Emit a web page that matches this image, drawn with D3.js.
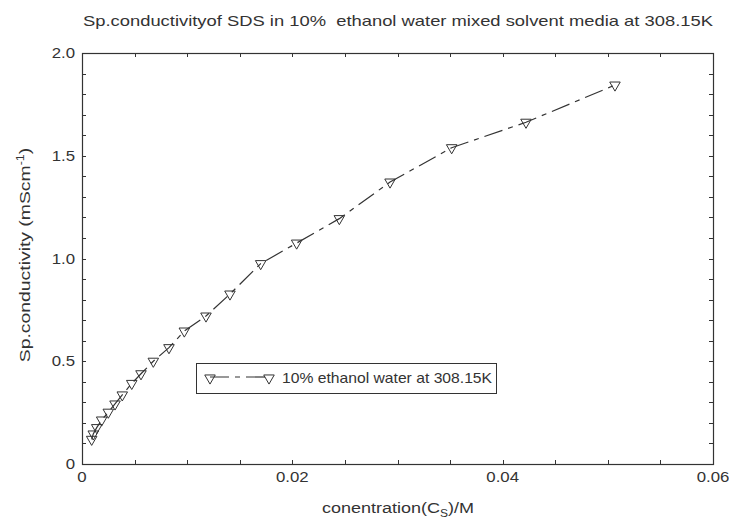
<!DOCTYPE html>
<html>
<head>
<meta charset="utf-8">
<script src="https://cdn.jsdelivr.net/npm/d3@7"></script>
<style>
  body { margin: 0; background: #fff; }
  svg { display: block; font-family: "Liberation Sans", Arial, sans-serif; }
</style>
</head>
<body>
<svg id="chart" width="729" height="521"></svg>
<script>
// ---- data ----
const concentration = [0.00092, 0.00107, 0.00140, 0.00187, 0.00250, 0.00314, 0.00383, 0.00473,
                       0.00561, 0.00678, 0.00827, 0.00973, 0.01179, 0.01407, 0.01699, 0.02041,
                       0.02447, 0.02929, 0.03515, 0.04222, 0.05068];
const conductivity = [0.120, 0.146, 0.177, 0.214, 0.252, 0.292, 0.336, 0.392,
                      0.439, 0.500, 0.566, 0.647, 0.720, 0.827, 0.975, 1.075,
                      1.194, 1.372, 1.539, 1.663, 1.844];
const xTickValues = [0, 0.02, 0.04, 0.06];
const xTickLabels = ["0", "0.02", "0.04", "0.06"];
const yTickValues = [0, 0.5, 1.0, 1.5, 2.0];
const yTickLabels = ["0", "0.5", "1.0", "1.5", "2.0"];
const titleText = "Sp.conductivityof SDS in 10%  ethanol water mixed solvent media at 308.15K";
const seriesName = "10% ethanol water at 308.15K";

const data = concentration.map((c, i) => ({x: c, y: conductivity[i]}));

const svg = d3.select("#chart");
const m = {left: 82, right: 713, top: 53, bottom: 464};
const x = d3.scaleLinear().domain([0, 0.06]).range([m.left, m.right]);
const y = d3.scaleLinear().domain([0, 2.0]).range([m.bottom, m.top]);
const ink = "#333";
const dash = "19,6,5,6";
const sx = 1.2; // horizontal stretch of the lettering

// title
svg.append("text").attr("transform", `translate(83,25.5) scale(1.225,1)`)
  .attr("font-size", 15).attr("fill", ink)
  .attr("xml:space", "preserve").style("white-space", "pre")
  .text(titleText);

// ticks (inward, on all sides)
const xMinor = d3.range(0, 0.0601, 0.005);
const yMinor = d3.range(0, 2.001, 0.1);
const tl = 4;
const g = svg.append("g").attr("stroke", ink).attr("stroke-width", 1);
xMinor.forEach(v => {
  const px = Math.round(x(v)) + 0.5;
  g.append("line").attr("x1", px).attr("x2", px).attr("y1", m.bottom).attr("y2", m.bottom - tl);
  g.append("line").attr("x1", px).attr("x2", px).attr("y1", m.top).attr("y2", m.top + tl);
});
yMinor.forEach(v => {
  const py = Math.round(y(v)) + 0.5;
  g.append("line").attr("x1", m.left).attr("x2", m.left + tl).attr("y1", py).attr("y2", py);
  g.append("line").attr("x1", m.right).attr("x2", m.right - tl).attr("y1", py).attr("y2", py);
});
// frame
svg.append("rect").attr("x", m.left + 0.5).attr("y", m.top + 0.5)
  .attr("width", m.right - m.left).attr("height", m.bottom - m.top)
  .attr("fill", "none").attr("stroke", ink).attr("stroke-width", 1.2);

// tick labels
xTickValues.forEach((v, i) => {
  svg.append("text").attr("transform", `translate(${x(v)},482) scale(${sx},1)`)
    .attr("text-anchor", "middle")
    .attr("font-size", 14).attr("fill", ink).text(xTickLabels[i]);
});
yTickValues.forEach((v, i) => {
  svg.append("text").attr("transform", `translate(75,${y(v) + 5}) scale(${sx},1)`)
    .attr("text-anchor", "end")
    .attr("font-size", 14).attr("fill", ink).text(yTickLabels[i]);
});

// axis titles
const xl = svg.append("text").attr("transform", `translate(398,513) scale(${sx},1)`)
  .attr("text-anchor", "middle").attr("font-size", 15).attr("fill", ink);
xl.append("tspan").text("conentration(C");
xl.append("tspan").attr("font-size", 10).attr("dy", 4).text("S");
xl.append("tspan").attr("dy", -4).text(")/M");

const yl = svg.append("text").attr("transform", `translate(30,255) rotate(-90) scale(1.25,1)`)
  .attr("text-anchor", "middle").attr("font-size", 15.5).attr("fill", ink);
yl.append("tspan").text("Sp.conductivity (mScm");
yl.append("tspan").attr("font-size", 10).attr("dy", -6).text("-1");
yl.append("tspan").attr("dy", 6).text(")");

// line
const line = d3.line().x(d => x(d.x)).y(d => y(d.y));
svg.append("path").datum(data).attr("d", line)
  .attr("fill", "none").attr("stroke", ink).attr("stroke-width", 1.2)
  .attr("stroke-dasharray", dash);

// markers: down-pointing triangles
const tri = d3.symbol().type(d3.symbolTriangle).size(48);
svg.selectAll("path.mk").data(data).enter().append("path").attr("class", "mk")
  .attr("d", tri)
  .attr("transform", d => `translate(${x(d.x)},${y(d.y)}) rotate(180)`)
  .attr("fill", "none").attr("stroke", ink).attr("stroke-width", 1);

// legend
const lg = svg.append("g");
lg.append("rect").attr("x", 196.5).attr("y", 363.5).attr("width", 300).attr("height", 30)
  .attr("fill", "#fff").attr("stroke", ink).attr("stroke-width", 1);
lg.append("line").attr("x1", 210).attr("x2", 269).attr("y1", 377).attr("y2", 377)
  .attr("stroke", ink).attr("stroke-width", 1.2).attr("stroke-dasharray", dash);
[210, 269].forEach(px => {
  lg.append("path").attr("d", tri)
    .attr("transform", `translate(${px},378) rotate(180)`)
    .attr("fill", "none").attr("stroke", ink).attr("stroke-width", 1);
});
lg.append("text").attr("transform", "translate(282,383) scale(1.12,1)")
  .attr("font-size", 14).attr("fill", ink)
  .text(seriesName);
</script>
</body>
</html>
